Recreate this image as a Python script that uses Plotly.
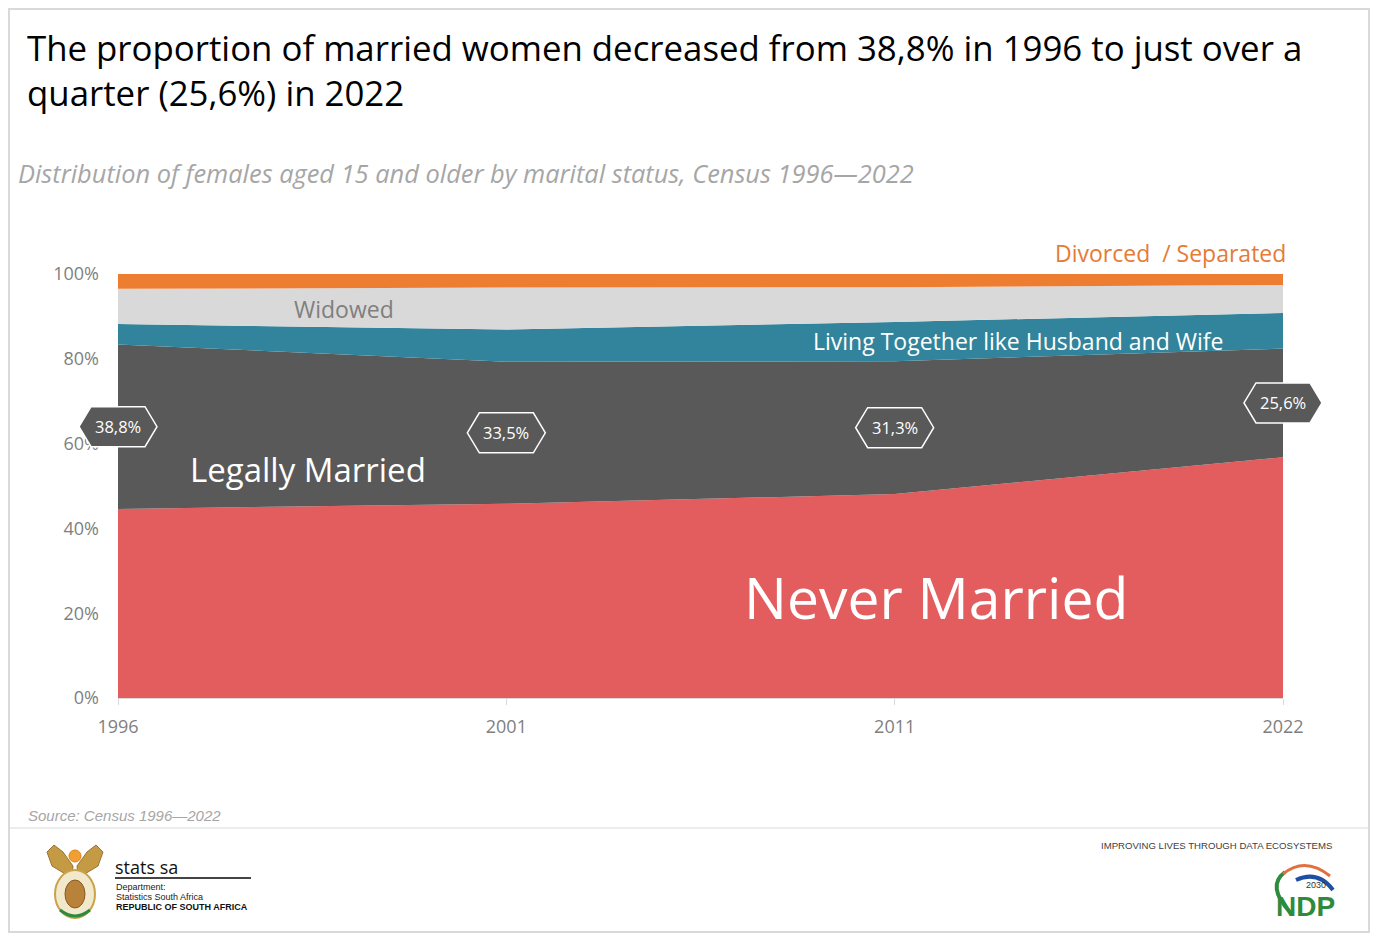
import plotly.graph_objects as go

# data (percent of females 15+)
years = ['1996', '2001', '2011', '2022']
never_married = [44.6, 45.8, 48.1, 56.8]
legally_married = [38.8, 33.5, 31.3, 25.6]
living_together = [4.8, 7.6, 9.3, 8.4]
widowed = [8.3, 9.9, 8.2, 6.6]
divorced = [3.5, 3.2, 3.1, 2.6]
married_labels = ['38,8%', '33,5%', '31,3%', '25,6%']

W, H = 1378, 941
L, R, T, B = 118, 1283, 274, 698
OFF = 8  # page body margin
FONT = 'Open Sans, Segoe UI, sans-serif'
ARIAL = 'Liberation Sans, Arial, sans-serif'


def px(x):
    return (x - L) / (R - L)


def py(y):
    return (B - y) / (B - T)


def poly(points):
    return 'M ' + ' L '.join(f'{px(a)},{py(b)}' for a, b in points) + ' Z'


xs = list(range(len(years)))
series = [
    ('Never Married', never_married, '#E35D5E'),
    ('Legally Married', legally_married, '#595959'),
    ('Living Together', living_together, '#31849B'),
    ('Widowed', widowed, '#D9D9D9'),
    ('Divorced / Separated', divorced, '#ED7D31'),
]

fig = go.Figure()
for name, vals, col in series:
    fig.add_trace(go.Scatter(
        x=xs, y=vals, name=name, mode='none',
        stackgroup='one', fillcolor=col, hoverinfo='skip'))

annots = []
shapes = []

# hexagon call-outs sitting in the middle of the legally-married band
for i, lab in enumerate(married_labels):
    mid = never_married[i] + legally_married[i] / 2
    shapes.append(dict(
        type='path', xref='paper', yref='paper',
        xsizemode='pixel', ysizemode='pixel',
        xanchor=i / (len(years) - 1), yanchor=mid / 100,
        path='M -39,0 L -27,20 L 27,20 L 39,0 L 27,-20 L -27,-20 Z',
        fillcolor='#595959', line=dict(color='white', width=1.5)))
    annots.append(dict(x=i, y=mid, xref='x', yref='y', text=lab,
                       font=dict(family=FONT, size=16.5, color='white')))

# series labels
annots += [
    dict(x=px(1288), y=py(253), text='Divorced  / Separated', xanchor='right',
         font=dict(family=FONT, size=23, color='#E57B35')),
    dict(x=px(344), y=py(309), text='Widowed',
         font=dict(family=FONT, size=23, color='#7F7F7F')),
    dict(x=px(1018), y=py(341), text='Living Together like Husband and Wife',
         font=dict(family=FONT, size=23, color='white')),
    dict(x=px(308), y=py(469), text='Legally Married',
         font=dict(family=FONT, size=33, color='white')),
    dict(x=px(936), y=py(597), text='Never Married',
         font=dict(family=FONT, size=57, color='white')),
]

# titles
annots += [
    dict(x=px(25), y=py(70), xanchor='left', align='left',
         text='The proportion of married women decreased from 38,8% in 1996 to just over a<br>quarter (25,6%) in 2022',
         font=dict(family=FONT, size=34.8, color='#000000')),
    dict(x=px(16), y=py(173), xanchor='left',
         text='<i>Distribution of females aged 15 and older by marital status, Census 1996\u20142022</i>',
         font=dict(family=FONT, size=25.4, color='#A6A6A6')),
    dict(x=px(26), y=py(815), xanchor='left',
         text='<i>Source: Census 1996\u20142022</i>',
         font=dict(family=ARIAL, size=15, color='#A6A6A6')),
]

# footer text
annots += [
    dict(x=px(1334), y=py(845), xanchor='right', text='IMPROVING LIVES THROUGH DATA ECOSYSTEMS',
         font=dict(family=ARIAL, size=9.6, color='#404040')),
    dict(x=px(113), y=py(867), xanchor='left', text='stats sa',
         font=dict(family=FONT, size=18, color='#111111')),
    dict(x=px(114), y=py(887), xanchor='left', text='Department:',
         font=dict(family=ARIAL, size=9, color='#222222')),
    dict(x=px(114), y=py(897), xanchor='left', text='Statistics South Africa',
         font=dict(family=ARIAL, size=9, color='#222222')),
    dict(x=px(114), y=py(907), xanchor='left', text='<b>REPUBLIC OF SOUTH AFRICA</b>',
         font=dict(family=ARIAL, size=9, color='#111111')),
    dict(x=px(1305), y=py(906), text='<b>NDP</b>',
         font=dict(family='Liberation Sans Narrow, Arial', size=28, color='#2E8B3E')),
    dict(x=px(1316), y=py(885), text='2030',
         font=dict(family='Liberation Sans Narrow, Arial', size=9, color='#333333')),
]
for a in annots:
    a.setdefault('xref', 'paper')
    a.setdefault('yref', 'paper')
    a.setdefault('xanchor', 'center')
    a.setdefault('yanchor', 'middle')
    a['showarrow'] = False

# frame, footer rule, logo approximations
shapes += [
    dict(type='rect', xref='paper', yref='paper', x0=px(OFF + 1), x1=px(W - OFF - 1),
         y0=py(OFF + 1), y1=py(H - OFF - 1),
         line=dict(color='#D9D9D9', width=2), layer='below'),
    dict(type='line', xref='paper', yref='paper', x0=px(OFF + 2), x1=px(W - OFF - 2), y0=py(828), y1=py(828),
         line=dict(color='#E6E6E6', width=1.5)),
    dict(type='line', xref='paper', yref='paper', x0=px(115), x1=px(251), y0=py(878), y1=py(878),
         line=dict(color='#444444', width=2)),
    # coat of arms (rough): wings, sun, shield
    dict(type='path', xref='paper', yref='paper',
         path=poly([(72, 878), (52, 866), (47, 852), (54, 845), (63, 852), (73, 866)]),
         fillcolor='#C49A45', line=dict(color='#9C7430', width=1)),
    dict(type='path', xref='paper', yref='paper',
         path=poly([(78, 878), (98, 866), (103, 852), (96, 845), (87, 852), (77, 866)]),
         fillcolor='#C49A45', line=dict(color='#9C7430', width=1)),
    dict(type='circle', xref='paper', yref='paper', x0=px(69), x1=px(81), y0=py(850), y1=py(862),
         fillcolor='#F0A030', line=dict(color='#E08020', width=1)),
    dict(type='circle', xref='paper', yref='paper', x0=px(55), x1=px(95), y0=py(870), y1=py(918),
         fillcolor='#F2E8CC', line=dict(color='#C9A24A', width=2)),
    dict(type='circle', xref='paper', yref='paper', x0=px(65), x1=px(85), y0=py(880), y1=py(908),
         fillcolor='#B8823A', line=dict(color='#8A5A20', width=1)),
    dict(type='path', xref='paper', yref='paper',
         path=f'M {px(60)},{py(910)} Q {px(75)},{py(922)} {px(90)},{py(910)}',
         line=dict(color='#2E8B3E', width=3)),
    # NDP circle (rough)
    dict(type='path', xref='paper', yref='paper',
         path=f'M {px(1290)},{py(912)} Q {px(1266)},{py(886)} {px(1285)},{py(872)}',
         line=dict(color='#2E8B3E', width=4)),
    dict(type='path', xref='paper', yref='paper',
         path=f'M {px(1283)},{py(874)} Q {px(1305)},{py(856)} {px(1330)},{py(876)}',
         line=dict(color='#E07040', width=3)),
    dict(type='path', xref='paper', yref='paper',
         path=f'M {px(1296)},{py(880)} Q {px(1318)},{py(870)} {px(1333)},{py(890)}',
         line=dict(color='#1F4FA0', width=4)),
]

fig.update_layout(
    width=W - 2 * OFF, height=H - 2 * OFF,
    margin=dict(l=L - OFF, r=W - OFF - R, t=T - OFF, b=H - OFF - B, pad=0),
    paper_bgcolor='white', plot_bgcolor='white',
    showlegend=False,
    annotations=annots, shapes=shapes,
    xaxis=dict(range=[0, len(years) - 1], tickvals=xs, ticktext=years,
               showgrid=False, zeroline=False, showline=True, linecolor='#D9D9D9', linewidth=1,
               ticks='outside', ticklen=6, tickcolor='#D9D9D9', ticklabelstandoff=6,
               tickfont=dict(family=FONT, size=18, color='#7F7F7F')),
    yaxis=dict(range=[0, 100], tickvals=[0, 20, 40, 60, 80, 100],
               ticktext=['0%', '20%', '40%', '60%', '80%', '100%'],
               showgrid=False, zeroline=False, showline=False, ticks='',
               ticklabelstandoff=18,
               tickfont=dict(family=FONT, size=18, color='#7F7F7F')),
)

fig.write_html('out.html')
